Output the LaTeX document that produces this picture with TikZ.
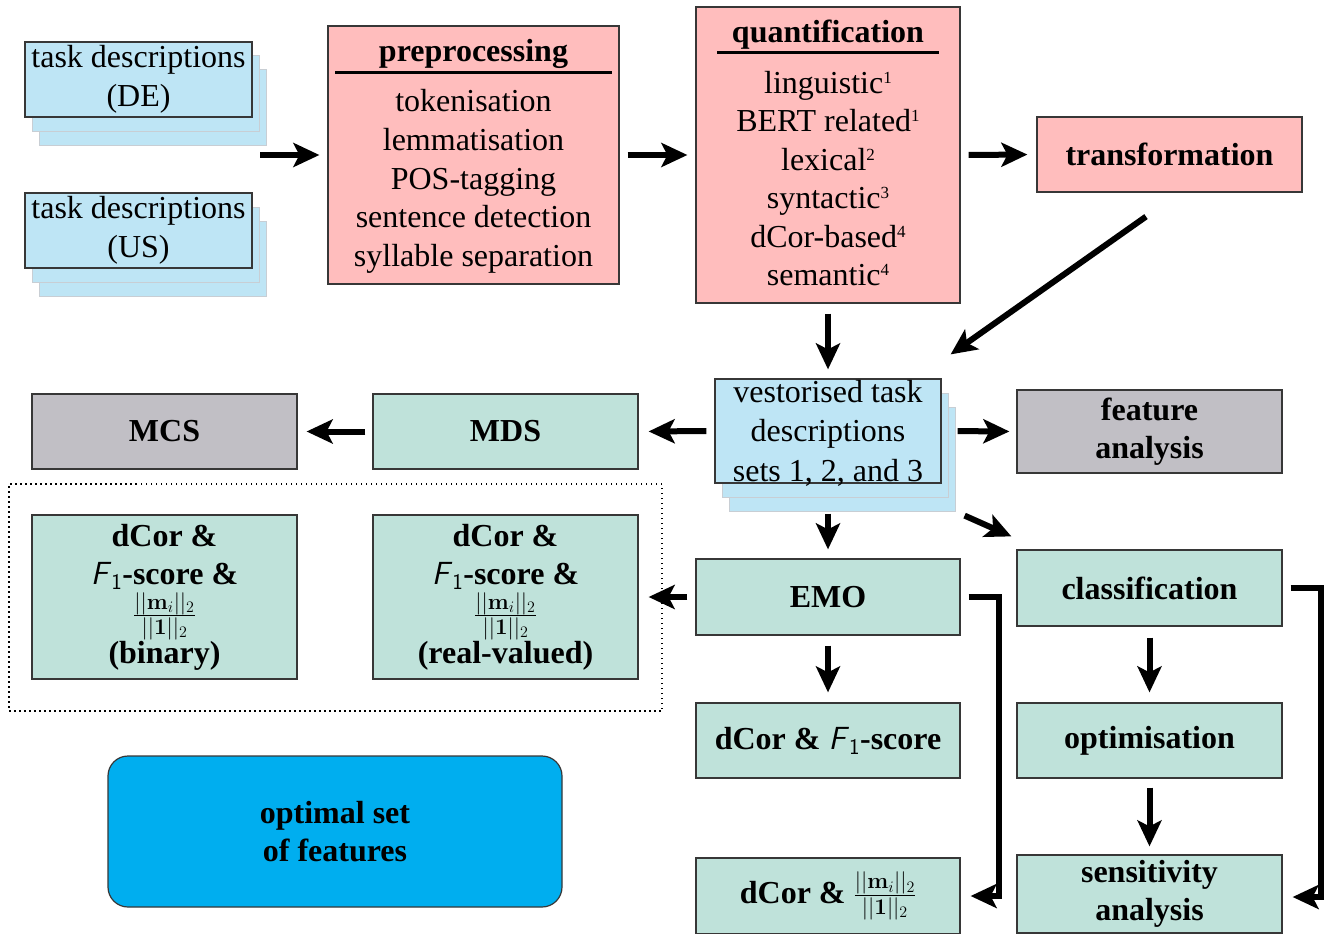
\documentclass[tikz,border=0pt]{standalone}
\usepackage{fix-cm}
\usepackage[no-math]{fontspec}
\setmainfont{Liberation Serif}
\usetikzlibrary{arrows.meta,shadows,calc}

\definecolor{pinkfill}{RGB}{255,189,189}
\definecolor{bluefill}{RGB}{190,229,245}
\definecolor{mintfill}{RGB}{191,226,218}
\definecolor{grayfill}{RGB}{193,191,197}
\definecolor{cyanfill}{RGB}{0,174,239}
\definecolor{edgecol}{RGB}{55,55,55}
\definecolor{copyedge}{RGB}{200,206,212}

% F_1 in sans italic, the norm ratio, and small superior figures
\newcommand\Fone{\textsf{\mdseries\itshape F}\textsubscript{\textsf{\mdseries 1}}}
\newcommand\normratio{$\frac{||\mathbf{m}_i||_2}{||\mathbf{1}||_2}$}
\newcommand\supfig[1]{\raisebox{10pt}{\fontsize{17}{17}\selectfont #1}}

\begin{document}
\begin{tikzpicture}[x=1pt,y=-1pt,
  font=\fontsize{32}{38.5}\selectfont,
  box/.style={draw=edgecol, line width=1.2pt, inner sep=0pt, align=center},
  pinkbox/.style={box, fill=pinkfill},
  bluebox/.style={box, fill=bluefill},
  boldtext/.style={font=\fontsize{32}{38.5}\selectfont\bfseries},
  mintbox/.style={box, fill=mintfill, boldtext},
  graybox/.style={box, fill=grayfill, boldtext},
  stack/.style={double copy shadow={shadow xshift=7pt, shadow yshift=-14pt, draw=copyedge, fill=bluefill, line width=1pt}},
  arr/.style={line width=6pt, -{Stealth[length=26pt,width=24pt,inset=6pt]}},
  sz/.style 2 args={minimum width=#1pt, minimum height=#2pt},
  rulebar/.style={line width=2.5pt}
]
\useasboundingbox (0,0) rectangle (1328,934);

% input documents
\node[bluebox, sz={227}{75}, stack] (de) at (138.5,79.5) {task descriptions\\(DE)};
\node[bluebox, sz={227}{75}, stack] (us) at (138.5,230.5) {task descriptions\\(US)};
\coordinate (feed) at (260,155);

% preprocessing
\node[pinkbox, sz={291}{258}] (pre) at (473.5,155) {};
\node[boldtext] (pretitle) at (473.5,54) {preprocessing};
\draw[rulebar] ($(pre.north west)+(8,47)$) -- ($(pre.north east)+(-8,47)$);
\node[align=center, font=\fontsize{32}{38.75}\selectfont] (preitems) at (473.5,181.5)
  {tokenisation\\lemmatisation\\POS-tagging\\sentence detection\\syllable separation};

% quantification
\node[pinkbox, sz={264}{296}] (quant) at (828,155) {};
\node[boldtext] (quanttitle) at (828,35) {quantification};
\draw[rulebar] ($(quant.north west)+(22,46)$) -- ($(quant.north east)+(-22,46)$);
\node[align=center, font=\fontsize{32}{38.4}\selectfont] (quantitems) at (828,178.5)
  {linguistic\supfig{1}\\BERT related\supfig{1}\\lexical\supfig{2}\\syntactic\supfig{3}\\dCor-based\supfig{4}\\semantic\supfig{4}};

\node[pinkbox, sz={265}{75}, boldtext] (trans) at (1169.5,154.5) {transformation};

% vectorised sets
\node[bluebox, sz={226}{104}, stack] (vec) at (828,431) {};
\node[align=center, font=\fontsize{32}{39.5}\selectfont] (vectext) at (828,433) {vestorised task\\descriptions\\sets 1, 2, and 3};

\node[graybox, sz={265}{83}] (feat) at (1149.5,431.5) {feature\\analysis};
\node[mintbox, sz={265}{75}] (mds) at (505.5,431.5) {MDS};
\node[graybox, sz={265}{75}] (mcs) at (164.5,431.5) {MCS};

% EMO result group
\node[draw, line width=1.5pt, dash pattern=on 1.5pt off 3.5pt, sz={653}{227}] (group) at (335.5,597.5) {};
\node[mintbox, sz={265}{164}] (bin) at (164.5,597) {dCor \&\\\Fone-score \&\\\normratio\\(binary)};
\node[mintbox, sz={265}{164}] (real) at (505.5,597) {dCor \&\\\Fone-score \&\\\normratio\\(real-valued)};

\node[mintbox, sz={264}{76}] (emo) at (828,597) {EMO};
\node[mintbox, sz={265}{76}] (cls) at (1149.5,588) {classification};
\node[mintbox, sz={264}{75}] (f1) at (828,740.5) {dCor \& \Fone-score};
\node[mintbox, sz={265}{75}] (opt) at (1149.5,740.5) {optimisation};
\node[mintbox, sz={264}{76}] (norm) at (828,896) {dCor \& \normratio};
\node[mintbox, sz={265}{78}] (sens) at (1149.5,894) {sensitivity\\analysis};

\node[box, fill=cyanfill, rounded corners=20pt, sz={454}{151}, boldtext] (best) at (335,831.5) {optimal set\\of features};

% connectors
\draw[arr, shorten >=8pt] (feed) -- (pre.west);
\draw[arr, shorten <=8pt, shorten >=8pt] (pre.east) -- (quant.west);
\draw[arr, shorten <=8pt, shorten >=9pt] (quant.east) -- (trans.west);
\draw[arr] ([shift={(-23.5,24)}]trans.south) -- ([shift={(9,-24)}]vec.north east);
\draw[arr, shorten <=10pt, shorten >=9pt] (quant.south) -- (vec.north);
\draw[arr, shorten <=16pt, shorten >=7pt] (vec.east) -- (feat.west);
\draw[arr, shorten <=8pt, shorten >=10pt] (vec.west) -- (mds.east);
\draw[arr, shorten <=7pt, shorten >=9pt] (mds.west) -- (mcs.east);
\draw[arr, shorten <=30pt, shorten >=9pt] (vec.south) -- (emo.north);
\draw[arr] ([shift={(23,32)}]vec.south east) -- ([shift={(-5,-13)}]cls.north west);
\draw[arr, shorten <=8pt, shorten >=10pt] (emo.west) -- (real.east);
\draw[arr, shorten <=10pt, shorten >=10pt] (emo.south) -- (f1.north);
\draw[arr] ([xshift=8pt]emo.east) -- ++(30,0) |- ([xshift=10pt]norm.east);
\draw[arr, shorten <=11pt, shorten >=10pt] (cls.south) -- (opt.north);
\draw[arr, shorten <=9pt, shorten >=8pt] (opt.south) -- (sens.north);
\draw[arr] ([xshift=8pt]cls.east) -- ++(30,0) |- ([shift={(10,3)}]sens.east);
\end{tikzpicture}
\end{document}
